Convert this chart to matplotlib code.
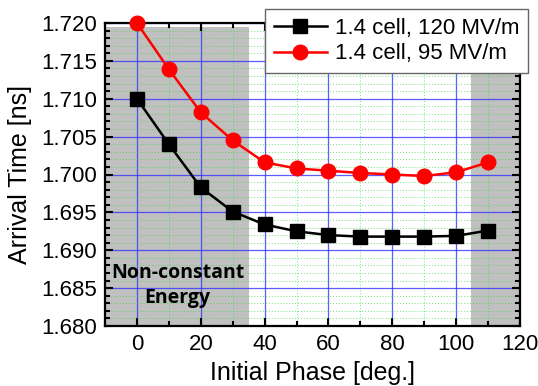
import numpy as np
import matplotlib.pyplot as plt
from matplotlib.ticker import MultipleLocator

plt.rcParams['font.family'] = ['Liberation Sans', 'DejaVu Sans']

phase = [0, 10, 20, 30, 40, 50, 60, 70, 80, 90, 100, 110]
t_120 = [1.7100, 1.7040, 1.6983, 1.6951, 1.6934, 1.6925, 1.6920, 1.6918, 1.6918, 1.6918, 1.6919, 1.6926]
t_95 = [1.7200, 1.7139, 1.7082, 1.7045, 1.7016, 1.7008, 1.7005, 1.7002, 1.7000, 1.6998, 1.7003, 1.7016]

fig = plt.figure(figsize=(5.38, 3.86), dpi=100)
ax = fig.add_axes([105/538, 1-326/386, (520-105)/538, (326-23)/386])

## shaded regions
ax.axvspan(-10, 35, ymin=0.003, ymax=0.987, color='#c0c0c0', lw=0, zorder=0)
ax.axvspan(104.5, 120, ymin=0.003, ymax=0.987, color='#c0c0c0', lw=0, zorder=0)

## grid
ax.grid(True, which='major', color='#3333ff', lw=0.9, alpha=0.8, zorder=1)
ax.grid(True, which='minor', color='#33dd33', lw=0.7, ls=(0, (1, 2)), alpha=0.7, zorder=1)
ax.set_axisbelow(True)

ax.plot(phase, t_120, '-s', color='black', lw=1.8, ms=9.5, label='1.4 cell, 120 MV/m', zorder=3, clip_on=False)
ax.plot(phase, t_95, '-o', color='red', lw=1.8, ms=10.5, label='1.4 cell, 95 MV/m', zorder=3, clip_on=False)

ax.set_xlim(-10, 120)
ax.set_ylim(1.680, 1.720)
ax.xaxis.set_major_locator(MultipleLocator(20))
ax.xaxis.set_minor_locator(MultipleLocator(10))
ax.yaxis.set_major_locator(MultipleLocator(0.005))
ax.yaxis.set_minor_locator(MultipleLocator(0.001))
ax.yaxis.set_major_formatter(plt.FormatStrFormatter('%.3f'))

ax.tick_params(which='both', direction='in', top=True, right=True, labelsize=16, width=1.5)
ax.tick_params(which='major', length=6, pad=6)
ax.tick_params(which='minor', length=3.5)
for s in ax.spines.values():
    s.set_linewidth(1.6)

ax.set_xlabel('Initial Phase [deg.]', fontsize=18, labelpad=4)
ax.set_ylabel('Arrival Time [ns]', fontsize=18, labelpad=6)

ax.text(12.8, 1.6853, 'Non-constant\nEnergy', ha='center', va='center', fontsize=14,
        fontweight='bold', family=['Open Sans', 'DejaVu Sans'], linespacing=1.35, zorder=4)

leg = fig.legend(loc='upper right', bbox_to_anchor=(528/538, 1-9/386), fontsize=16,
                 fancybox=False, framealpha=1, edgecolor='#666666', borderpad=0.4,
                 handlelength=2.4, handletextpad=0.35, labelspacing=0.2, borderaxespad=0)
leg.get_frame().set_linewidth(1.0)
leg.set_zorder(10)

plt.savefig('out.png', dpi=100)
